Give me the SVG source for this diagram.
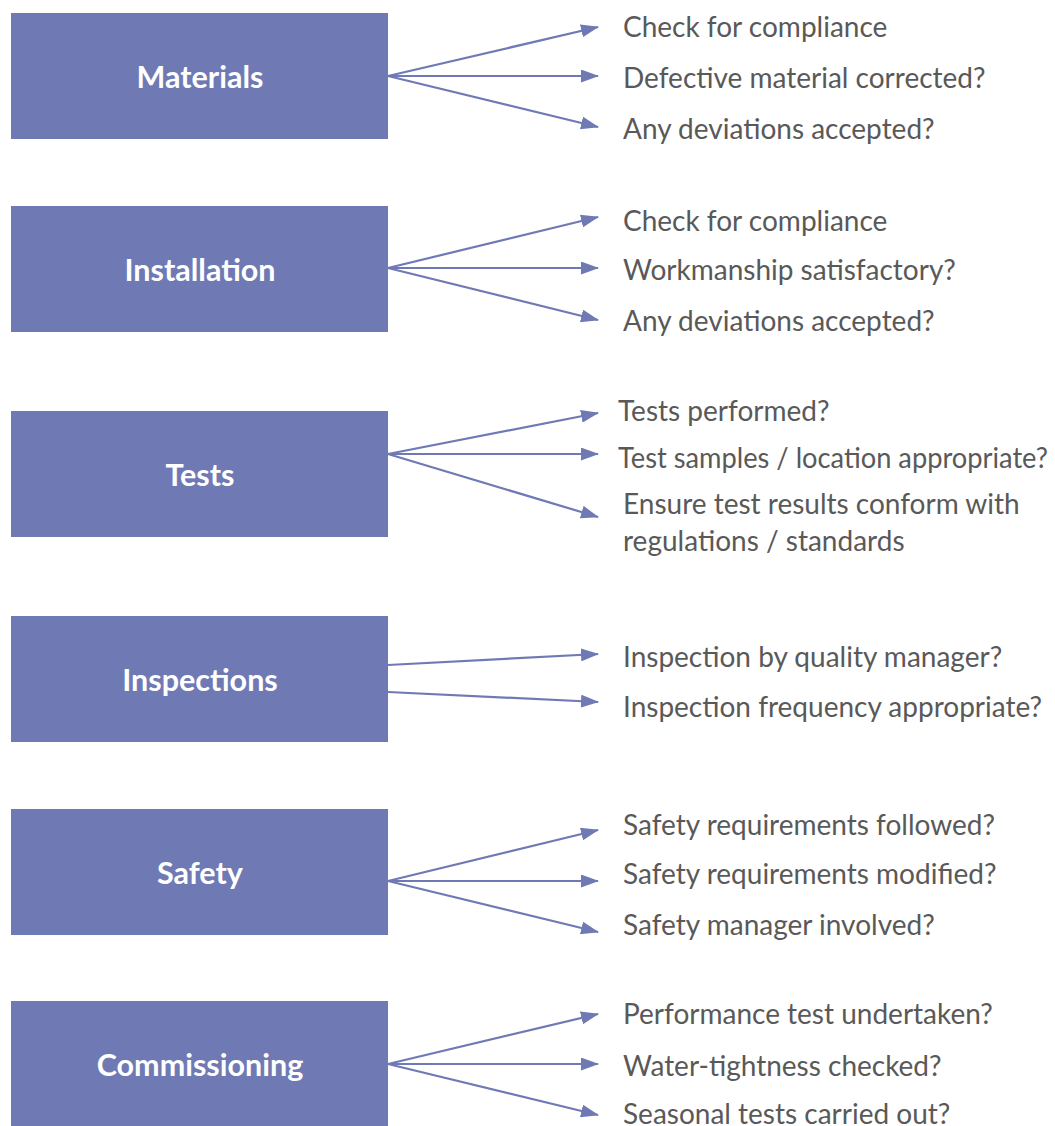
<svg xmlns="http://www.w3.org/2000/svg" width="1055" height="1126" viewBox="0 0 1055 1126">
  <style>
    .box { fill: #6f7ab5; }
    .label { font-family: Lato, "Open Sans", "Liberation Sans", sans-serif; font-weight: bold; font-size: 30.5px; fill: #ffffff; text-anchor: middle; }
    .item { font-family: Lato, "Open Sans", "Liberation Sans", sans-serif; font-size: 28px; fill: #595959; }
    .conn { stroke: #6f7ab5; stroke-width: 2.2; fill: none; marker-end: url(#arrow); }
  </style>
  <defs>
    <marker id="arrow" viewBox="0 0 18 13" refX="17" refY="6.5" markerWidth="18" markerHeight="13" markerUnits="userSpaceOnUse" orient="auto">
      <path d="M0,0 L18,6.5 L0,13 z" fill="#6f7ab5"/>
    </marker>
  </defs>
  <rect width="1055" height="1126" fill="#ffffff"/>

  <!-- category boxes -->
  <g id="materials">
    <rect class="box" x="11" y="13" width="377" height="126"/>
    <text class="label" x="200" y="88">Materials</text>
  </g>
  <g id="installation">
    <rect class="box" x="11" y="206" width="377" height="126"/>
    <text class="label" x="200" y="281">Installation</text>
  </g>
  <g id="tests">
    <rect class="box" x="11" y="411" width="377" height="126"/>
    <text class="label" x="200" y="486">Tests</text>
  </g>
  <g id="inspections">
    <rect class="box" x="11" y="616" width="377" height="126"/>
    <text class="label" x="200" y="691">Inspections</text>
  </g>
  <g id="safety">
    <rect class="box" x="11" y="809" width="377" height="126"/>
    <text class="label" x="200" y="884">Safety</text>
  </g>
  <g id="commissioning">
    <rect class="box" x="11" y="1001" width="377" height="130"/>
    <text class="label" x="200" y="1076">Commissioning</text>
  </g>

  <!-- checklist items -->
  <g id="materials-items">
    <text class="item" x="623" y="37">Check for compliance</text>
    <text class="item" x="623" y="88">Defective material corrected?</text>
    <text class="item" x="623" y="139">Any deviations accepted?</text>
  </g>
  <g id="installation-items">
    <text class="item" x="623" y="231">Check for compliance</text>
    <text class="item" x="623" y="280">Workmanship satisfactory?</text>
    <text class="item" x="623" y="331">Any deviations accepted?</text>
  </g>
  <g id="tests-items">
    <text class="item" x="618" y="421">Tests performed?</text>
    <text class="item" x="618" y="468" textLength="430" lengthAdjust="spacingAndGlyphs">Test samples / location appropriate?</text>
    <text class="item" x="623" y="514">Ensure test results conform with</text>
    <text class="item" x="623" y="551">regulations / standards</text>
  </g>
  <g id="inspections-items">
    <text class="item" x="623" y="667">Inspection by quality manager?</text>
    <text class="item" x="623" y="717">Inspection frequency appropriate?</text>
  </g>
  <g id="safety-items">
    <text class="item" x="623" y="835">Safety requirements followed?</text>
    <text class="item" x="623" y="884">Safety requirements modified?</text>
    <text class="item" x="623" y="935">Safety manager involved?</text>
  </g>
  <g id="commissioning-items">
    <text class="item" x="623" y="1024">Performance test undertaken?</text>
    <text class="item" x="623" y="1076">Water-tightness checked?</text>
    <text class="item" x="623" y="1124">Seasonal tests carried out?</text>
  </g>

  <!-- connectors -->
  <g id="connectors">
    <line class="conn" x1="388" y1="76" x2="598" y2="27"/>
    <line class="conn" x1="388" y1="76" x2="598" y2="76"/>
    <line class="conn" x1="388" y1="76" x2="598" y2="127"/>

    <line class="conn" x1="388" y1="268" x2="598" y2="217"/>
    <line class="conn" x1="388" y1="268" x2="598" y2="268"/>
    <line class="conn" x1="388" y1="268" x2="598" y2="320"/>

    <line class="conn" x1="388" y1="454" x2="598" y2="413"/>
    <line class="conn" x1="388" y1="454" x2="598" y2="454"/>
    <line class="conn" x1="388" y1="454" x2="598" y2="517"/>

    <line class="conn" x1="388" y1="665" x2="598" y2="654"/>
    <line class="conn" x1="388" y1="692" x2="598" y2="702"/>

    <line class="conn" x1="388" y1="881" x2="598" y2="830"/>
    <line class="conn" x1="388" y1="881" x2="598" y2="881"/>
    <line class="conn" x1="388" y1="881" x2="598" y2="932"/>

    <line class="conn" x1="388" y1="1064" x2="598" y2="1014"/>
    <line class="conn" x1="388" y1="1064" x2="598" y2="1064"/>
    <line class="conn" x1="388" y1="1064" x2="598" y2="1115"/>
  </g>
</svg>
